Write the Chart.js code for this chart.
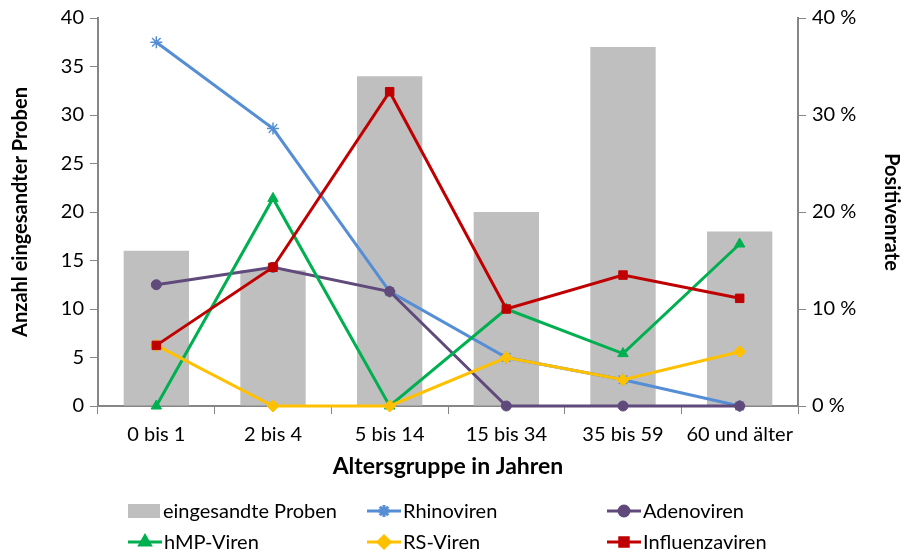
<!DOCTYPE html>
<html>
<head>
<meta charset="utf-8">
<script src="https://cdn.jsdelivr.net/npm/chart.js@4/dist/chart.umd.min.js"></script>
<style>
  html, body { margin: 0; padding: 0; background: #fff; }
  #wrap { width: 903px; height: 554px; position: relative; }
</style>
</head>
<body>
<div id="wrap"><canvas id="chart"></canvas></div>
<script>
// Altersgruppen und Werte
const categories = ["0 bis 1", "2 bis 4", "5 bis 14", "15 bis 34", "35 bis 59", "60 und älter"];
const proben = [16, 14, 34, 20, 37, 18];
const rhinoviren = [37.5, 28.6, 11.8, 5.0, 2.7, 0];
const adenoviren = [12.5, 14.3, 11.8, 0, 0, 0];
const hmpViren = [0, 21.4, 0, 10.0, 5.4, 16.7];
const rsViren = [6.25, 0, 0, 5.0, 2.7, 5.6];
const influenzaviren = [6.25, 14.3, 32.4, 10.0, 13.5, 11.1];

const FONT = "Lato, 'Open Sans', sans-serif";
const axisColor = "#868686";
const textColor = "#000";

function lineSet(label, data, color, pointStyle, radius, order) {
  return {
    type: "line",
    label,
    data,
    yAxisID: "y1",
    order,
    clip: false,
    borderColor: color,
    backgroundColor: color,
    borderWidth: 3,
    pointStyle,
    pointRadius: radius,
    pointBorderWidth: pointStyle === "star" ? 1.5 : 1,
    pointBorderColor: color,
    pointBackgroundColor: color,
    tension: 0,
  };
}

// later series lie on top (lower order is drawn last)
const datasets = [
  {
    type: "bar",
    label: "eingesandte Proben",
    data: proben,
    yAxisID: "y",
    backgroundColor: "#BFBFBF",
    barPercentage: 0.56,
    categoryPercentage: 1,
    order: 10,
  },
  lineSet("Rhinoviren", rhinoviren, "#558ED5", "star", 6, 5),
  lineSet("Adenoviren", adenoviren, "#604A7B", "circle", 5, 4),
  lineSet("hMP-Viren", hmpViren, "#00B050", "triangle", 6, 3),
  lineSet("RS-Viren", rsViren, "#FFC000", "rectRot", 6, 2),
  lineSet("Influenzaviren", influenzaviren, "#C00000", "rect", 6, 1),
];

// Legende unten in drei Spalten
const legendPos = [
  { x: 128, y: 511 }, { x: 367, y: 511 }, { x: 607, y: 511 },
  { x: 128, y: 542 }, { x: 367, y: 542 }, { x: 607, y: 542 },
];

const legendPlugin = {
  id: "bottomLegend",
  afterDraw(chart) {
    const ctx = chart.ctx;
    ctx.save();
    ctx.font = "20px " + FONT;
    ctx.textBaseline = "middle";
    chart.data.datasets.forEach((ds, i) => {
      const p = legendPos[i];
      let tx;
      if (ds.type === "bar") {
        ctx.fillStyle = ds.backgroundColor;
        ctx.fillRect(p.x, p.y - 7, 32, 14);
        tx = p.x + 35;
      } else {
        ctx.strokeStyle = ds.borderColor;
        ctx.fillStyle = ds.borderColor;
        ctx.lineWidth = 3;
        ctx.beginPath();
        ctx.moveTo(p.x, p.y);
        ctx.lineTo(p.x + 34, p.y);
        ctx.stroke();
        Chart.helpers.drawPoint(ctx, {
          pointStyle: ds.pointStyle,
          radius: ds.pointRadius,
          borderWidth: ds.pointBorderWidth,
          rotation: 0,
        }, p.x + 17, p.y);
        tx = p.x + 36;
      }
      ctx.fillStyle = textColor;
      ctx.fillText(ds.label, tx, p.y + 1);
    });
    ctx.restore();
  },
};

new Chart(document.getElementById("chart"), {
  data: { labels: categories, datasets },
  plugins: [legendPlugin],
  options: {
    responsive: true,
    maintainAspectRatio: false,
    animation: false,
    layout: { padding: { top: 7, bottom: 68, left: 0, right: 0 } },
    plugins: {
      legend: { display: false },
      tooltip: { enabled: false },
    },
    scales: {
      x: {
        offset: true,
        grid: {
          offset: true,
          drawOnChartArea: false,
          drawTicks: true,
          tickLength: 8,
          color: axisColor,
        },
        border: { color: axisColor, width: 2 },
        ticks: {
          color: textColor,
          font: { family: FONT, size: 20 },
          padding: 9,
          maxRotation: 0,
        },
        title: {
          display: true,
          text: "Altersgruppe in Jahren",
          color: textColor,
          font: { family: FONT, size: 23, weight: "bold" },
          padding: { top: 0, bottom: 6 },
        },
        afterFit: (s) => { s.height = 80; },
      },
      y: {
        position: "left",
        min: 0,
        max: 40,
        ticks: {
          stepSize: 5,
          color: textColor,
          font: { family: FONT, size: 20 },
          padding: 6,
        },
        grid: {
          drawOnChartArea: false,
          tickLength: 8,
          color: axisColor,
        },
        border: { color: axisColor, width: 2 },
        title: {
          display: true,
          text: "Anzahl eingesandter Proben",
          color: textColor,
          font: { family: FONT, size: 20, weight: "bold" },
          padding: { top: 9, bottom: 0 },
        },
        afterFit: (s) => { s.width = 98; },
      },
      y1: {
        position: "right",
        min: 0,
        max: 40,
        ticks: {
          stepSize: 10,
          color: textColor,
          font: { family: FONT, size: 20 },
          padding: 6,
          callback: (v) => v + " %",
        },
        grid: {
          drawOnChartArea: false,
          tickLength: 8,
          color: axisColor,
        },
        border: { color: axisColor, width: 2 },
        title: {
          display: true,
          text: "Positivenrate",
          color: textColor,
          font: { family: FONT, size: 20, weight: "bold" },
          padding: { top: 0, bottom: 0 },
        },
        afterFit: (s) => { s.width = 105; },
      },
    },
  },
});
</script>
</body>
</html>
